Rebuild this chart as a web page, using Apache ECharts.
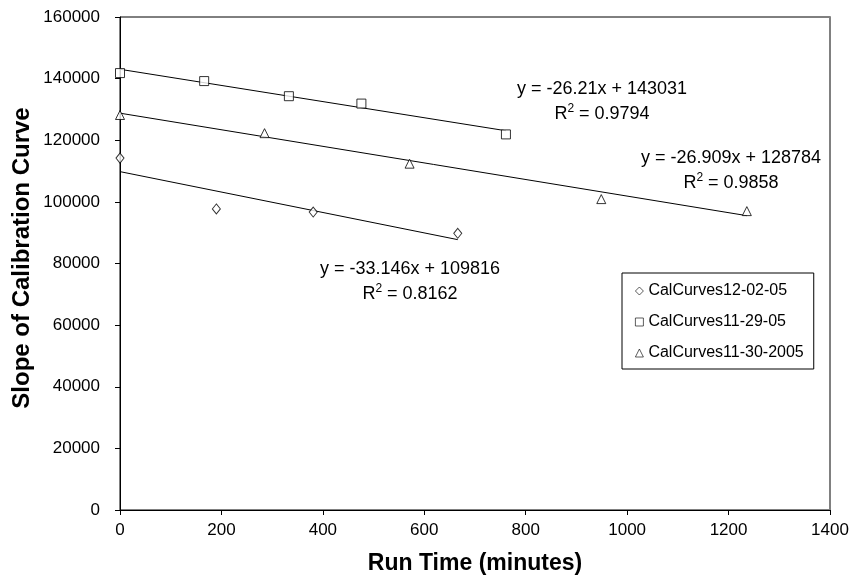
<!DOCTYPE html>
<html>
<head>
<meta charset="utf-8">
<script src="https://cdn.jsdelivr.net/npm/echarts@6/dist/echarts.min.js"></script>
<style>
  html, body { margin: 0; padding: 0; background: #fff; }
  #box { width: 854px; height: 580px; }
</style>
</head>
<body>
<div id="box"></div>
<script>
var seriesNames = ['CalCurves12-02-05', 'CalCurves11-29-05', 'CalCurves11-30-2005'];

// CalCurves12-02-05 (diamonds)
var diamondX = [0, 190, 381, 666];
var diamondY = [114200, 97700, 96700, 89800];
// CalCurves11-29-05 (squares)
var squareX = [0, 166, 333, 476, 761];
var squareY = [141800, 139200, 134300, 131900, 121900];
// CalCurves11-30-2005 (triangles)
var triangleX = [0, 285, 571, 949, 1236];
var triangleY = [128200, 122300, 112400, 100900, 97000];

// linear trend lines as printed on the chart
var slopes = [-33.146, -26.21, -26.909];
var intercepts = [109816, 143031, 128784];
var eqLabels = ['y = -33.146x + 109816', 'y = -26.21x + 143031', 'y = -26.909x + 128784'];
var r2Labels = ['0.8162', '0.9794', '0.9858'];

var xTicks = [0, 200, 400, 600, 800, 1000, 1200, 1400];
var yTicks = [0, 20000, 40000, 60000, 80000, 100000, 120000, 140000, 160000];

var font = '"Liberation Sans", Arial, sans-serif';

function pairs(xs, ys) {
  var out = [];
  for (var i = 0; i < xs.length; i++) out.push([xs[i], ys[i]]);
  return out;
}
function trend(k, xs) {
  var x0 = Math.min.apply(null, xs), x1 = Math.max.apply(null, xs);
  return [[x0, slopes[k] * x0 + intercepts[k]], [x1, slopes[k] * x1 + intercepts[k]]];
}

var allX = [diamondX, squareX, triangleX];
var allY = [diamondY, squareY, triangleY];
var symbols = ['diamond', 'rect', 'triangle'];
var sizes = [[8, 10], 9, 9];

var series = [];
for (var k = 0; k < 3; k++) {
  series.push({
    name: seriesNames[k] + ' trend',
    type: 'line',
    data: trend(k, allX[k]),
    showSymbol: false,
    silent: true,
    z: 2,
    lineStyle: { color: '#000', width: 1 }
  });
}
for (var k = 0; k < 3; k++) {
  series.push({
    name: seriesNames[k],
    type: 'scatter',
    data: pairs(allX[k], allY[k]),
    symbol: symbols[k],
    symbolSize: sizes[k],
    z: 3,
    itemStyle: { color: '#fff', borderColor: '#000', borderWidth: 1 }
  });
}

// positions of the equation boxes (centre of the two lines)
var eqPos = [[410, 269], [602, 89], [731, 158]];
var graphics = [];
for (var k = 0; k < 3; k++) {
  graphics.push({
    type: 'text', x: eqPos[k][0], y: eqPos[k][1],
    style: { text: eqLabels[k], fontSize: 18, fontFamily: font, fill: '#000', align: 'center', verticalAlign: 'middle' }
  });
  graphics.push({
    type: 'text', x: eqPos[k][0], y: eqPos[k][1] + 25,
    style: {
      text: 'R{s|2} = ' + r2Labels[k], fontSize: 18, fontFamily: font, fill: '#000',
      align: 'center', verticalAlign: 'middle',
      rich: { s: { fontSize: 12, fontFamily: font, verticalAlign: 'top', lineHeight: 22 } }
    }
  });
}
// y axis title
graphics.push({
  type: 'text', x: 22, y: 258, rotation: Math.PI / 2,
  style: { text: 'Slope of Calibration Curve', fontSize: 24, fontWeight: 'bold', fontFamily: font, fill: '#000', align: 'center', verticalAlign: 'middle' }
});

var chart = echarts.init(document.getElementById('box'));
chart.setOption({
  animation: false,
  backgroundColor: '#fff',
  grid: { left: 120, right: 24, top: 17, bottom: 70, show: true, borderColor: '#000', borderWidth: 1 },
  legend: {
    data: seriesNames,
    orient: 'vertical',
    left: 622, top: 273,
    padding: [10, 10, 8, 13],
    itemGap: 15,
    itemWidth: 8, itemHeight: 8,
    selectedMode: false,
    borderColor: '#000', borderWidth: 1,
    itemStyle: { color: '#fff', borderColor: '#000', borderWidth: 0.8 },
    textStyle: { fontSize: 16, fontFamily: font, color: '#000' }
  },
  xAxis: [{
    type: 'value',
    min: xTicks[0], max: xTicks[xTicks.length - 1], interval: xTicks[1] - xTicks[0],
    name: 'Run Time (minutes)', nameLocation: 'middle', nameGap: 42,
    nameTextStyle: { fontSize: 23, fontWeight: 'bold', fontFamily: font, color: '#000' },
    axisLine: { lineStyle: { color: '#000', width: 1 } },
    axisTick: { inside: false, length: 5, lineStyle: { color: '#000' } },
    axisLabel: { fontSize: 17, fontFamily: font, color: '#000', margin: 12, formatter: function (v) { return String(v); } },
    splitLine: { show: false }
  }],
  yAxis: [{
    type: 'value',
    min: yTicks[0], max: yTicks[yTicks.length - 1], interval: yTicks[1] - yTicks[0],
    axisLine: { show: true, lineStyle: { color: '#000', width: 1 } },
    axisTick: { show: true, inside: false, length: 5, lineStyle: { color: '#000' } },
    axisLabel: { fontSize: 17, fontFamily: font, color: '#000', margin: 20, formatter: function (v) { return String(v); } },
    splitLine: { show: false }
  }, {
    type: 'value', position: 'right',
    min: yTicks[0], max: yTicks[yTicks.length - 1],
    axisLine: { show: true, lineStyle: { color: '#808080', width: 2 } },
    axisTick: { show: false }, axisLabel: { show: false }, splitLine: { show: false }
  }],
  graphic: graphics,
  series: series
});
</script>
</body>
</html>
